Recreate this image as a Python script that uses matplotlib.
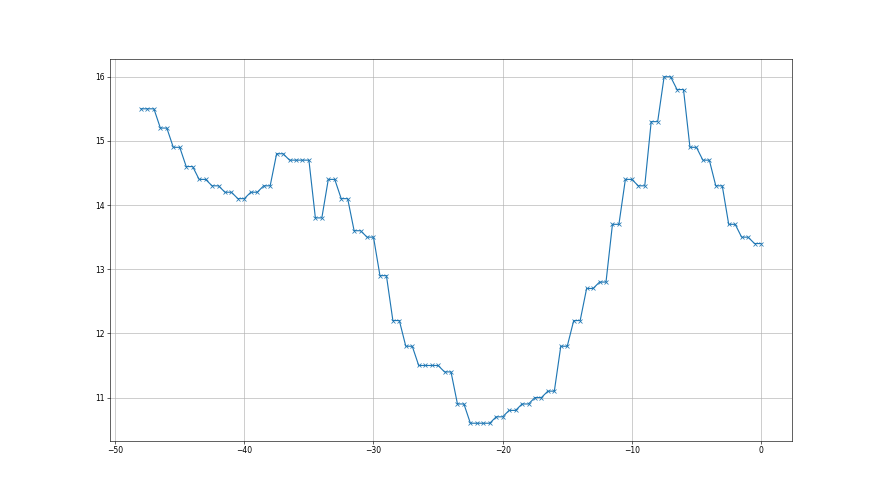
import matplotlib
matplotlib.use("Agg")
import matplotlib.pyplot as plt

# time offsets (every half step) and measured values
x = [-48.0, -47.5, -47.0, -46.5, -46.0, -45.5, -45.0, -44.5, -44.0, -43.5,
     -43.0, -42.5, -42.0, -41.5, -41.0, -40.5, -40.0, -39.5, -39.0, -38.5,
     -38.0, -37.5, -37.0, -36.5, -36.0, -35.5, -35.0, -34.5, -34.0, -33.5,
     -33.0, -32.5, -32.0, -31.5, -31.0, -30.5, -30.0, -29.5, -29.0, -28.5,
     -28.0, -27.5, -27.0, -26.5, -26.0, -25.5, -25.0, -24.5, -24.0, -23.5,
     -23.0, -22.5, -22.0, -21.5, -21.0, -20.5, -20.0, -19.5, -19.0, -18.5,
     -18.0, -17.5, -17.0, -16.5, -16.0, -15.5, -15.0, -14.5, -14.0, -13.5,
     -13.0, -12.5, -12.0, -11.5, -11.0, -10.5, -10.0, -9.5, -9.0, -8.5,
     -8.0, -7.5, -7.0, -6.5, -6.0, -5.5, -5.0, -4.5, -4.0, -3.5,
     -3.0, -2.5, -2.0, -1.5, -1.0, -0.5, 0.0]

y = [15.5, 15.5, 15.5, 15.2, 15.2, 14.9, 14.9, 14.6, 14.6, 14.4,
     14.4, 14.3, 14.3, 14.2, 14.2, 14.1, 14.1, 14.2, 14.2, 14.3,
     14.3, 14.8, 14.8, 14.7, 14.7, 14.7, 14.7, 13.8, 13.8, 14.4,
     14.4, 14.1, 14.1, 13.6, 13.6, 13.5, 13.5, 12.9, 12.9, 12.2,
     12.2, 11.8, 11.8, 11.5, 11.5, 11.5, 11.5, 11.4, 11.4, 10.9,
     10.9, 10.6, 10.6, 10.6, 10.6, 10.7, 10.7, 10.8, 10.8, 10.9,
     10.9, 11.0, 11.0, 11.1, 11.1, 11.8, 11.8, 12.2, 12.2, 12.7,
     12.7, 12.8, 12.8, 13.7, 13.7, 14.4, 14.4, 14.3, 14.3, 15.3,
     15.3, 16.0, 16.0, 15.8, 15.8, 14.9, 14.9, 14.7, 14.7, 14.3,
     14.3, 13.7, 13.7, 13.5, 13.5, 13.4, 13.4]

fig, ax = plt.subplots(figsize=(16, 9), dpi=55)
ax.plot(x, y, marker="x")
ax.grid(True)

fig.savefig("out.png", dpi=55)
plt.close(fig)
